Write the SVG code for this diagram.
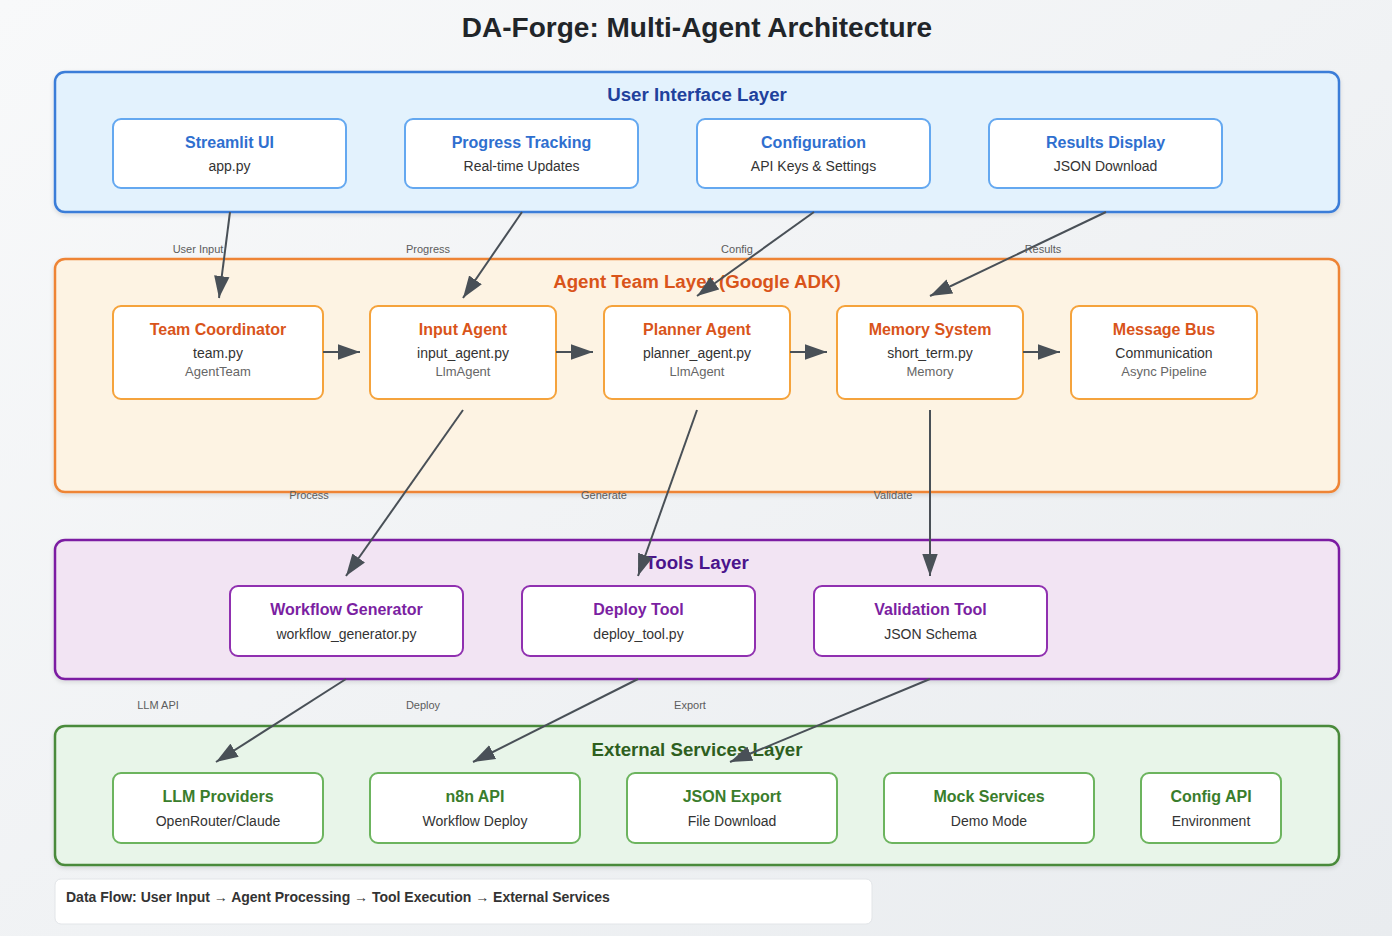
<svg xmlns="http://www.w3.org/2000/svg" width="1392" height="936" viewBox="0 0 1392 936">
<defs>
<linearGradient id="bg" x1="0" y1="0" x2="1" y2="1">
<stop offset="0" stop-color="#f8f9fa"/>
<stop offset="1" stop-color="#e9ecef"/>
</linearGradient>
<filter id="sh" x="-5%" y="-5%" width="110%" height="115%">
<feDropShadow dx="0" dy="2" stdDeviation="2" flood-color="#000" flood-opacity="0.12"/>
</filter>
<marker id="arr" viewBox="0 0 10 7" refX="10" refY="3.5" markerWidth="11" markerHeight="8" orient="auto" markerUnits="strokeWidth">
<polygon points="0 0, 10 3.5, 0 7" fill="#495057"/>
</marker>
</defs>
<style>
text{font-family:"Liberation Sans",Arial,Helvetica,sans-serif;text-anchor:middle}
.title{font-size:28px;font-weight:bold;fill:#212529}
.layer{stroke-width:2.5;filter:url(#sh)}
.lt{font-size:18.7px;font-weight:bold}
.node{fill:#fff;stroke-width:2}
.nt{font-size:16px;font-weight:bold}
.ns{font-size:14px;fill:#333}
.n3{font-size:13px;fill:#666}
.ui{fill:#e3f2fd;stroke:#3b7dd8}
.ag{fill:#fdf3e3;stroke:#ee8434}
.tl{fill:#f2e4f3;stroke:#7b1fa2}
.ex{fill:#e8f5e9;stroke:#4a8a3a}
.uin{stroke:#64a8f0}.uit{fill:#2f6fcf}
.agn{stroke:#f5a33c}.agt{fill:#d9541a}
.tln{stroke:#9030b0}.tlt{fill:#7b1fa2}
.exn{stroke:#6cb45e}.ext{fill:#3a7d2c}
.conn line{stroke:#495057;stroke-width:2;marker-end:url(#arr)}
.cl{font-size:11px;fill:#5c5c5c}
</style>
<rect width="1392" height="936" fill="url(#bg)"/>
<text class="title" x="697" y="37">DA-Forge: Multi-Agent Architecture</text>

<g id="layer-ui">
<rect class="layer ui" x="55" y="72" width="1284" height="140" rx="10"/>
<text class="lt" x="697" y="101" fill="#1f419c">User Interface Layer</text>
</g>
<g id="layer-agent">
<rect class="layer ag" x="55" y="259" width="1284" height="233" rx="10"/>
<text class="lt" x="697" y="288" fill="#d9541a">Agent Team Layer (Google ADK)</text>
</g>
<g id="layer-tools">
<rect class="layer tl" x="55" y="540" width="1284" height="139" rx="10"/>
<text class="lt" x="697" y="569" fill="#4a148c">Tools Layer</text>
</g>
<g id="layer-ext">
<rect class="layer ex" x="55" y="726" width="1284" height="139" rx="10"/>
<text class="lt" x="697" y="756" fill="#2e5f1e">External Services Layer</text>
</g>

<g id="streamlit-ui"><rect class="node uin" x="113" y="119" width="233" height="69" rx="8"/><text class="nt uit" x="229.5" y="148">Streamlit UI</text><text class="ns" x="229.5" y="171">app.py</text></g>
<g id="progress-tracking"><rect class="node uin" x="405" y="119" width="233" height="69" rx="8"/><text class="nt uit" x="521.5" y="148">Progress Tracking</text><text class="ns" x="521.5" y="171">Real-time Updates</text></g>
<g id="configuration"><rect class="node uin" x="697" y="119" width="233" height="69" rx="8"/><text class="nt uit" x="813.5" y="148">Configuration</text><text class="ns" x="813.5" y="171">API Keys &amp; Settings</text></g>
<g id="results-display"><rect class="node uin" x="989" y="119" width="233" height="69" rx="8"/><text class="nt uit" x="1105.5" y="148">Results Display</text><text class="ns" x="1105.5" y="171">JSON Download</text></g>

<g id="team-coordinator"><rect class="node agn" x="113" y="306" width="210" height="93" rx="8"/><text class="nt agt" x="218" y="335">Team Coordinator</text><text class="ns" x="218" y="358">team.py</text><text class="n3" x="218" y="376">AgentTeam</text></g>
<g id="input-agent"><rect class="node agn" x="370" y="306" width="186" height="93" rx="8"/><text class="nt agt" x="463" y="335">Input Agent</text><text class="ns" x="463" y="358">input_agent.py</text><text class="n3" x="463" y="376">LlmAgent</text></g>
<g id="planner-agent"><rect class="node agn" x="604" y="306" width="186" height="93" rx="8"/><text class="nt agt" x="697" y="335">Planner Agent</text><text class="ns" x="697" y="358">planner_agent.py</text><text class="n3" x="697" y="376">LlmAgent</text></g>
<g id="memory-system"><rect class="node agn" x="837" y="306" width="186" height="93" rx="8"/><text class="nt agt" x="930" y="335">Memory System</text><text class="ns" x="930" y="358">short_term.py</text><text class="n3" x="930" y="376">Memory</text></g>
<g id="message-bus"><rect class="node agn" x="1071" y="306" width="186" height="93" rx="8"/><text class="nt agt" x="1164" y="335">Message Bus</text><text class="ns" x="1164" y="358">Communication</text><text class="n3" x="1164" y="376">Async Pipeline</text></g>

<g id="workflow-generator"><rect class="node tln" x="230" y="586" width="233" height="70" rx="8"/><text class="nt tlt" x="346.5" y="615">Workflow Generator</text><text class="ns" x="346.5" y="639">workflow_generator.py</text></g>
<g id="deploy-tool"><rect class="node tln" x="522" y="586" width="233" height="70" rx="8"/><text class="nt tlt" x="638.5" y="615">Deploy Tool</text><text class="ns" x="638.5" y="639">deploy_tool.py</text></g>
<g id="validation-tool"><rect class="node tln" x="814" y="586" width="233" height="70" rx="8"/><text class="nt tlt" x="930.5" y="615">Validation Tool</text><text class="ns" x="930.5" y="639">JSON Schema</text></g>

<g id="llm-providers"><rect class="node exn" x="113" y="773" width="210" height="70" rx="8"/><text class="nt ext" x="218" y="802">LLM Providers</text><text class="ns" x="218" y="826">OpenRouter/Claude</text></g>
<g id="n8n-api"><rect class="node exn" x="370" y="773" width="210" height="70" rx="8"/><text class="nt ext" x="475" y="802">n8n API</text><text class="ns" x="475" y="826">Workflow Deploy</text></g>
<g id="json-export"><rect class="node exn" x="627" y="773" width="210" height="70" rx="8"/><text class="nt ext" x="732" y="802">JSON Export</text><text class="ns" x="732" y="826">File Download</text></g>
<g id="mock-services"><rect class="node exn" x="884" y="773" width="210" height="70" rx="8"/><text class="nt ext" x="989" y="802">Mock Services</text><text class="ns" x="989" y="826">Demo Mode</text></g>
<g id="config-api"><rect class="node exn" x="1141" y="773" width="140" height="70" rx="8"/><text class="nt ext" x="1211" y="802">Config API</text><text class="ns" x="1211" y="826">Environment</text></g>

<g id="connectors" class="conn">
<line x1="230" y1="212" x2="219" y2="298"/>
<line x1="522" y1="212" x2="463" y2="298"/>
<line x1="814" y1="212" x2="697" y2="296"/>
<line x1="1106" y1="212" x2="930" y2="296"/>
<line x1="323" y1="352" x2="360" y2="352"/>
<line x1="556" y1="352" x2="593" y2="352"/>
<line x1="790" y1="352" x2="827" y2="352"/>
<line x1="1023" y1="352" x2="1060" y2="352"/>
<line x1="463" y1="410" x2="346" y2="576"/>
<line x1="697" y1="410" x2="638" y2="576"/>
<line x1="930" y1="410" x2="930" y2="576"/>
<line x1="346" y1="679" x2="216" y2="762"/>
<line x1="638" y1="679" x2="473" y2="762"/>
<line x1="930" y1="679" x2="730" y2="762"/>
<text class="cl" x="198" y="253">User Input</text>
<text class="cl" x="428" y="253">Progress</text>
<text class="cl" x="737" y="253">Config</text>
<text class="cl" x="1043" y="253">Results</text>
<text class="cl" x="309" y="499">Process</text>
<text class="cl" x="604" y="499">Generate</text>
<text class="cl" x="893" y="499">Validate</text>
<text class="cl" x="158" y="709">LLM API</text>
<text class="cl" x="423" y="709">Deploy</text>
<text class="cl" x="690" y="709">Export</text>
</g>

<g id="footer">
<rect x="55" y="879" width="817" height="45" rx="6" fill="#fff" stroke="#e2e5e8" stroke-width="1"/>
<text x="66" y="902" style="text-anchor:start;font-size:14px;font-weight:bold;fill:#333">Data Flow: User Input → Agent Processing → Tool Execution → External Services</text>
</g>
</svg>
